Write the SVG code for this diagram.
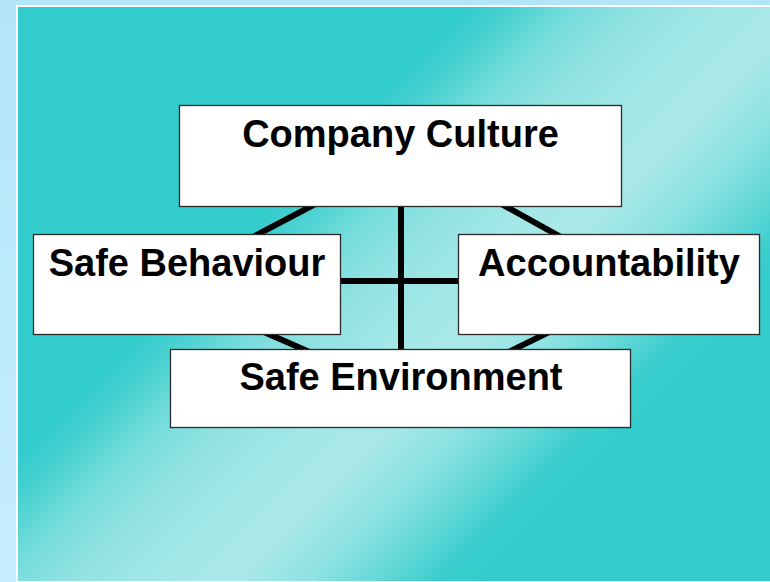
<svg xmlns="http://www.w3.org/2000/svg" width="770" height="582" viewBox="0 0 770 582">
  <defs>
    <linearGradient id="outer" x1="0" y1="0" x2="0" y2="1">
      <stop offset="0" stop-color="#b3e5fa"/>
      <stop offset="1" stop-color="#c6eeff"/>
    </linearGradient>
    <linearGradient id="panel" gradientUnits="userSpaceOnUse" x1="240" y1="240" x2="530" y2="530">
      <stop offset="0" stop-color="#33cccc"/>
      <stop offset="0.086" stop-color="#50d3d3"/>
      <stop offset="0.19" stop-color="#79dddd"/>
      <stop offset="0.293" stop-color="#91e2e2"/>
      <stop offset="0.431" stop-color="#a2e7e7"/>
      <stop offset="0.534" stop-color="#a8e8e8"/>
      <stop offset="0.586" stop-color="#a8e8e8"/>
      <stop offset="0.707" stop-color="#8ee2e2"/>
      <stop offset="0.828" stop-color="#62d7d7"/>
      <stop offset="0.931" stop-color="#39cdcd"/>
      <stop offset="1" stop-color="#33cccc"/>
    </linearGradient>
  </defs>
  <style>
    .box { fill: #ffffff; stroke: #2a2a2a; stroke-width: 1.3; }
    .label { font-family: "Liberation Sans", Arial, sans-serif; font-weight: bold; font-size: 38px; fill: #000000; text-anchor: middle; }
    .conn { stroke: #000000; stroke-width: 6; fill: none; stroke-linecap: butt; }
  </style>

  <rect x="0" y="0" width="770" height="582" fill="url(#outer)"/>
  <rect x="16" y="5" width="754" height="577" fill="#ffffff"/>
  <rect x="18" y="7" width="752" height="574" fill="url(#panel)"/>

  <g id="connectors">
    <line class="conn" x1="401" y1="200" x2="401" y2="354"/>
    <line class="conn" x1="336" y1="281" x2="463" y2="281"/>
    <line class="conn" x1="320.8" y1="201.1" x2="250.7" y2="238.2"/>
    <line class="conn" x1="496.2" y1="201.1" x2="562.8" y2="238.2"/>
    <line class="conn" x1="261" y1="330.7" x2="313" y2="353.6"/>
    <line class="conn" x1="551.7" y1="330.7" x2="505.3" y2="353.6"/>
  </g>

  <g id="company-culture">
    <rect class="box" x="179.5" y="105.5" width="442" height="101"/>
    <text class="label" x="400.5" y="147">Company Culture</text>
  </g>

  <g id="safe-behaviour">
    <rect class="box" x="33.5" y="234.5" width="307" height="100"/>
    <text class="label" x="187" y="276">Safe Behaviour</text>
  </g>

  <g id="accountability">
    <rect class="box" x="458.5" y="234.5" width="301" height="100"/>
    <text class="label" x="609" y="276">Accountability</text>
  </g>

  <g id="safe-environment">
    <rect class="box" x="170.5" y="349.5" width="460" height="78"/>
    <text class="label" x="401" y="390">Safe Environment</text>
  </g>
</svg>
